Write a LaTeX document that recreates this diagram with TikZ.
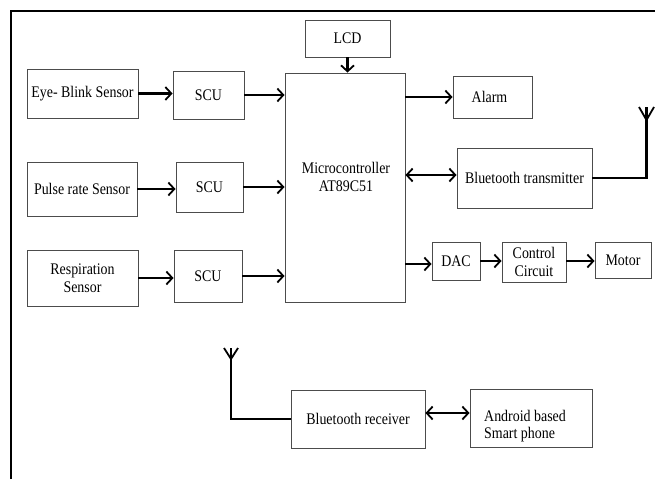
\documentclass[tikz,border=0pt]{standalone}
\usepackage{fontspec}
\setmainfont{Liberation Serif}[FakeStretch=0.86]
\usetikzlibrary{arrows.meta,calc}
\begin{document}
\begin{tikzpicture}[x=1pt,y=-1pt,
  box/.style={draw=black!70,line width=0.9pt,inner sep=0pt,font=\fontsize{16.2}{17.5}\selectfont,align=center},
  txt/.style={font=\fontsize{16.2}{17.5}\selectfont,inner sep=0pt},
  arr/.style={line width=2.4pt,-{Straight Barb[length=6pt,width=13pt,line width=1.8pt]}},
  darr/.style={line width=2.4pt,{Straight Barb[length=6pt,width=13pt,line width=1.8pt]}-{Straight Barb[length=6pt,width=13pt,line width=1.8pt]}},
  wire/.style={line width=2.4pt},
  frame/.style={line width=2.2pt}]
\useasboundingbox (0,0) rectangle (655,479);
\coordinate (ftl) at (11,11);
\coordinate (ftr) at (655,11);
\coordinate (fbl) at (11,479);
\draw[frame] (fbl) -- (ftl) -- (ftr);
% boxes
\node[box,minimum width=85pt,minimum height=37pt] (lcd) at (347.5,38.5) {LCD};
\node[box,minimum width=120pt,minimum height=229pt] (micro) at (345,187.5) {};
\node[txt,align=center] (mtext) at (346,177) {Microcontroller\\AT89C51};
\node[box,minimum width=111pt,minimum height=49pt] (eye) at (82.5,93.5) {Eye- Blink Sensor};
\node[box,minimum width=71pt,minimum height=48pt] (scu1) at (208.5,95) {SCU};
\node[box,minimum width=110pt,minimum height=54pt] (pulse) at (82,189) {Pulse rate Sensor};
\node[box,minimum width=67pt,minimum height=50pt] (scu2) at (209.5,187) {SCU};
\node[box,minimum width=111pt,minimum height=56pt] (resp) at (82.5,278) {Respiration\\Sensor};
\node[box,minimum width=68pt,minimum height=52pt] (scu3) at (208,276) {SCU};
\node[box,minimum width=79pt,minimum height=42pt] (alarm) at (492.5,97) {\hspace*{-6pt}Alarm};
\node[box,minimum width=135pt,minimum height=60pt] (tx) at (524.5,178) {Bluetooth transmitter};
\node[box,minimum width=48pt,minimum height=38pt] (dac) at (456,261) {DAC};
\node[box,minimum width=64pt,minimum height=40pt] (ctrl) at (534,262) {Control\\Circuit};
\node[box,minimum width=56pt,minimum height=36pt] (motor) at (623,260) {Motor};
\node[box,minimum width=134pt,minimum height=58pt] (rx) at (358,419) {Bluetooth receiver};
\node[box,minimum width=122pt,minimum height=58pt] (andr) at (531,418) {};
\node[txt,align=left,anchor=west] (atext) at (484,426) {Android based\\Smart phone};
% connectors
\draw[arr] (eye.east) -- (eye.east -| scu1.west);
\draw[arr] (scu1.east) -- (scu1.east -| micro.west);
\draw[arr] (pulse.east) -- (pulse.east -| scu2.west);
\draw[arr] (scu2.east) -- (scu2.east -| micro.west);
\draw[arr] (resp.east) -- (resp.east -| scu3.west);
\draw[arr] (scu3.east) -- (scu3.east -| micro.west);
\draw[arr] (lcd.south) -- (lcd.south |- micro.north);
\draw[arr] (alarm.west -| micro.east) -- (alarm.west);
\draw[darr] ([yshift=3pt]tx.west -| micro.east) -- ([yshift=3pt]tx.west);
\draw[arr] ([yshift=-3pt]dac.west -| micro.east) -- ([yshift=-3pt]dac.west);
\draw[arr] (dac.east) -- (dac.east -| ctrl.west);
\draw[arr] (dac.east -| ctrl.east) -- (dac.east -| motor.west);
\draw[darr] ([yshift=6pt]rx.east) -- ([yshift=6pt]rx.east -| andr.west);
% antennas
\coordinate (ant1) at (646.5,107);
\coordinate (ant1j) at (646.5,120);
\draw[wire] (tx.east) -| (ant1);
\draw[line width=1.8pt] (639,107) -- (ant1j) -- (654,107);
\coordinate (ant2) at (231,348);
\coordinate (ant2j) at (231,359);
\draw[wire] (rx.west) -| (ant2);
\draw[line width=1.8pt] (224,348) -- (ant2j) -- (238,348);
\end{tikzpicture}
\end{document}
